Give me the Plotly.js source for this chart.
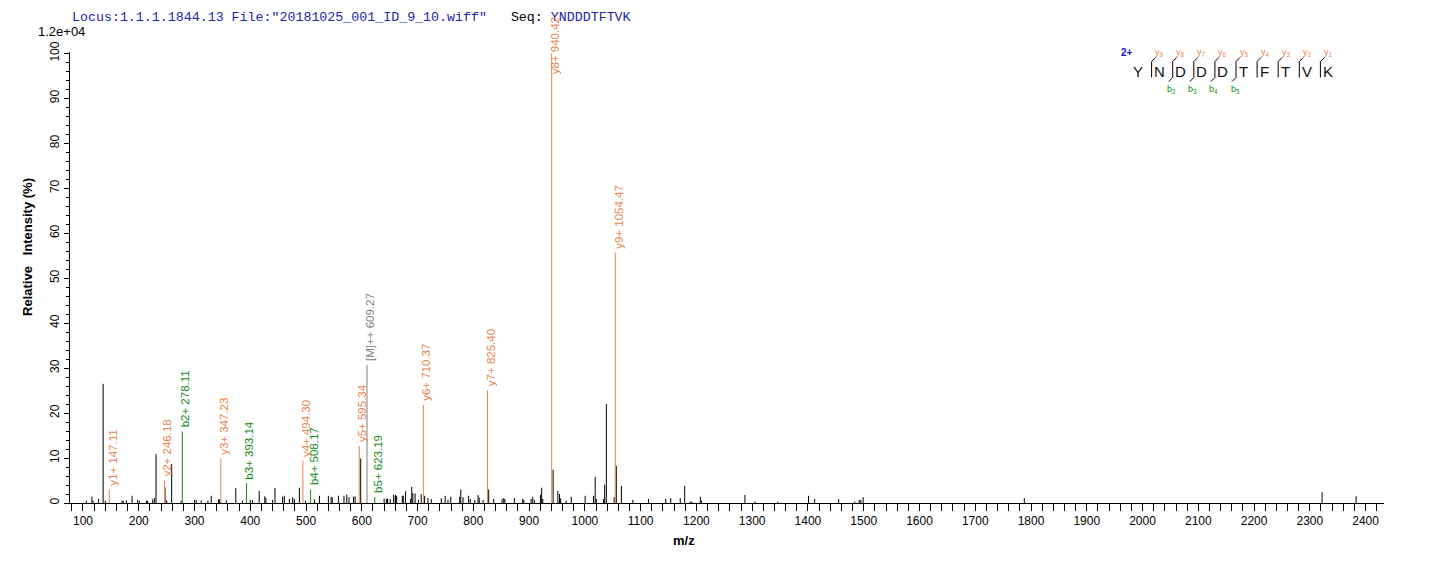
<!DOCTYPE html>
<html>
<head>
<meta charset="utf-8">
<script src="https://cdn.plot.ly/plotly-3.0.1.min.js"></script>
<style>
  html, body { margin: 0; padding: 0; background: #fff; }
  #chart { width: 1436px; height: 562px; }
</style>
</head>
<body>
<div id="chart"></div>
<script>
// ── Unassigned peaks (m/z, relative intensity %) ─────────────────────────────
const bgMz = [106,116,118,128,136.1,140,170,172,178,188,198,201,214,216,225,228,231,247,250,259,276,
  300,303,312,324,330,343,345,357,374,386,400,404,416,426,428,440,444.3,458,461,470,476,479,488,499,
  515,524,540,545,547,558,568,573,577,585,588,598,640,646,657,660,
  644,646.5,651,660.5,662.5,672.5,674.5,678.5,687.5,689.5,691.5,695.5,701.5,706.5,712.5,718.5,724.5,
  742.5,749.5,754.5,759.5,775.5,777.5,781.5,791.5,794.5,802.5,808.5,810.5,817.5,827.5,836.5,
  851.5,854.5,856.5,873.5,888.5,890.5,903.5,906.5,909.5,920.5,922.5,924.5,943,951.5,954.5,956.5,
  966.5,975.5,1000.5,1015.5,1018.5,1020.5,1033.5,1035.5,1038.5,1052.5,1056.3,1065.5,1086,1114,
  1145,1154,1171,1179,1189,1192,1207,1209,1287,1305,1346,1401,1412,1455,1484,1492,1495,1499,
  1788,2322,2383];
const bgInt = [0.5,1.4,0.5,0.9,26.5,0.5,0.5,0.5,0.6,1.6,0.7,0.5,0.5,0.5,0.8,1.1,10.9,3.5,0.6,8.7,0.5,
  0.7,0.7,0.6,0.5,1.6,0.8,0.8,0.6,3.3,0.5,0.7,0.6,2.7,1.5,1.1,0.7,3.3,1.4,1.6,0.9,1.3,0.9,3.4,0.5,
  0.8,1.6,1.6,1.4,1.2,1.6,1.6,1.9,1.3,1.4,1.5,9.9,1.0,1.0,1.9,1.5,
  0.9,0.9,0.9,1.8,1.6,1.6,1.6,2.6,0.9,3.6,2.2,2.1,0.7,2.0,1.6,1.1,0.9,
  1.1,1.6,0.7,1.4,1.4,3.0,1.3,1.6,0.9,0.7,1.8,1.2,0.7,3.0,0.9,
  0.9,1.1,0.9,1.1,0.9,0.7,0.9,1.4,0.7,1.8,3.4,0.9,7.4,2.7,2.0,1.0,
  0.5,1.4,1.6,1.6,5.8,0.9,0.9,4.1,22.0,1.3,8.3,3.8,0.7,0.9,
  0.9,1.1,1.1,3.8,0.3,0.3,1.4,0.5,1.8,0.3,0.3,1.6,0.9,0.9,0.3,0.7,0.7,1.3,
  1.1,2.4,1.5];

// ── Assigned fragment ions ───────────────────────────────────────────────────
const ionNames = ['y1+','y2+','y3+','y4+','y5+','y6+','y7+','y8+','y9+','b2+','b3+','b4+','b5+','[M]++'];
const ionMz    = [147.11,246.18,347.23,494.30,595.34,710.37,825.40,940.42,1054.47,278.11,393.14,508.17,623.19,609.27];
const ionInt   = [3.0,5.0,9.9,9.4,12.7,21.8,25.1,100,55.7,15.9,4.4,3.0,1.3,30.7];
const ionType  = ['y','y','y','y','y','y','y','y','y','b','b','b','b','M'];

// ── Sequence coverage ────────────────────────────────────────────────────────
const seq    = ['Y','N','D','D','D','T','F','T','V','K'];
const yFound = [1,2,3,4,5,6,7,8,9];
const bFound = [2,3,4,5];

const COL = { y: '#E8834E', b: '#168A16', M: '#808080' };
const SANS = 'Arial, "Liberation Sans", sans-serif';

// plot box in pixels, used to place the sequence sketch
const L = 70, T = 52, W = 1314, H = 451;
const px = p => (p - L) / W;
const py = p => 1 - (p - T) / H;

function sticks(xs, ys) {
  const x = [], y = [];
  xs.forEach((m, i) => { x.push(m, m, null); y.push(0, ys[i], null); });
  return { x, y };
}

const traces = [];
const bg = sticks(bgMz, bgInt);
traces.push({ x: bg.x, y: bg.y, mode: 'lines', line: { color: '#000', width: 1 }, hoverinfo: 'skip', showlegend: false });

['y', 'b', 'M'].forEach(t => {
  const idx = ionType.map((v, i) => v === t ? i : -1).filter(i => i >= 0);
  const s = sticks(idx.map(i => ionMz[i]), idx.map(i => ionInt[i]));
  traces.push({ x: s.x, y: s.y, mode: 'lines', line: { color: COL[t], width: 1 }, hoverinfo: 'skip', showlegend: false });
});

const annotations = [];

// peak labels
ionNames.forEach((n, i) => {
  annotations.push({
    x: ionMz[i], y: Math.min(ionInt[i], 94.5), xref: 'x', yref: 'y',
    text: `${n} ${ionMz[i].toFixed(2)}`, textangle: -90,
    xanchor: 'center', yanchor: 'bottom', xshift: 3, yshift: 2, showarrow: false,
    font: { family: SANS, size: 11.5, color: COL[ionType[i]] },
  });
});

// intensity scale + axis titles
annotations.push(
  { x: px(36), y: py(32), xref: 'paper', yref: 'paper', xanchor: 'left', yanchor: 'middle', showarrow: false,
    text: '1.2e+04', font: { family: SANS, size: 13, color: '#000' } },
  { x: px(684), y: py(540), xref: 'paper', yref: 'paper', xanchor: 'center', yanchor: 'middle', showarrow: false,
    text: 'm/z', font: { family: SANS, size: 13, color: '#000', weight: 'bold' } },
  { x: px(27), y: py(247), xref: 'paper', yref: 'paper', xanchor: 'center', yanchor: 'middle', showarrow: false,
    textangle: -90, text: 'Relative\u00A0\u00A0\u00A0Intensity (%)', font: { family: SANS, size: 13, color: '#000', weight: 'bold' } }
);

// sequence sketch, top right
const seqX0 = 1138, seqStep = 21.1, seqY = 72;
const shapes = [];
annotations.push({ x: px(1127), y: py(53), xref: 'paper', yref: 'paper', xanchor: 'center', yanchor: 'middle',
  showarrow: false, text: '2+', font: { family: SANS, size: 10, color: '#1414C8', weight: 'bold' } });
seq.forEach((aa, i) => {
  annotations.push({ x: px(seqX0 + i * seqStep), y: py(seqY), xref: 'paper', yref: 'paper',
    xanchor: 'center', yanchor: 'middle', showarrow: false, text: aa,
    font: { family: SANS, size: 15, color: '#111' } });
});
const seg = (x0, y0, x1, y1, c) => ({ type: 'line', xref: 'paper', yref: 'paper',
  x0: px(x0), y0: py(y0), x1: px(x1), y1: py(y1), line: { color: c, width: 1 } });
for (let k = 1; k < seq.length; k++) {
  const vx = seqX0 + k * seqStep - 7.5;
  const hasY = yFound.includes(seq.length - k), hasB = bFound.includes(k);
  if (!hasY && !hasB) continue;
  shapes.push(seg(vx, 61.5, vx, 77.5, '#000'));
  if (hasY) {
    shapes.push(seg(vx, 61.5, vx + 4, 57.5, '#000'));
    annotations.push({ x: px(vx + 8), y: py(53), xref: 'paper', yref: 'paper', xanchor: 'center', yanchor: 'middle',
      showarrow: false, text: `y<sub>${seq.length - k}</sub>`, font: { family: SANS, size: 9, color: COL.y } });
  }
  if (hasB) {
    shapes.push(seg(vx, 77.5, vx - 4, 81.5, '#000'));
    annotations.push({ x: px(vx - 1), y: py(89), xref: 'paper', yref: 'paper', xanchor: 'center', yanchor: 'middle',
      showarrow: false, text: `b<sub>${k}</sub>`, font: { family: SANS, size: 9, color: COL.b } });
  }
}

const tickFont = { family: SANS, size: 12, color: '#000' };

Plotly.newPlot('chart', traces, {
  width: 1436, height: 562,
  paper_bgcolor: '#fff', plot_bgcolor: '#fff',
  margin: { l: L, r: 1436 - L - W, t: T, b: 562 - T - H, pad: 0 },
  showlegend: false,
  title: {
    text: 'Locus:1.1.1.1844.13 File:"20181025_001_ID_9_10.wiff"\u00A0\u00A0\u00A0<span style="color:#000">Seq:</span> YNDDDTFTVK',
    x: 72 / 1436, xanchor: 'left', xref: 'container', y: 1 - 16 / 562, yanchor: 'middle', yref: 'container',
    font: { family: '"Liberation Mono", "Courier New", monospace', size: 13.3, color: '#2424A8' },
  },
  xaxis: {
    range: [76.7, 2433], tick0: 0, dtick: 100,
    ticks: 'outside', ticklen: 7, tickwidth: 1, tickcolor: '#000',
    showline: true, linecolor: '#000', linewidth: 1,
    showgrid: false, zeroline: false, tickfont: tickFont,
    minor: { dtick: 20, ticks: 'outside', ticklen: 7, tickcolor: '#000', showgrid: false },
  },
  yaxis: {
    range: [0, 100.3], tick0: 0, dtick: 10, tickangle: -90,
    ticks: 'outside', ticklen: 5, tickwidth: 1, tickcolor: '#000',
    showline: true, linecolor: '#000', linewidth: 1,
    showgrid: false, zeroline: false, tickfont: tickFont,
    minor: { dtick: 2, ticks: 'outside', ticklen: 3, tickcolor: '#000', showgrid: false },
  },
  annotations, shapes,
}, { displayModeBar: false, staticPlot: true });
</script>
</body>
</html>
